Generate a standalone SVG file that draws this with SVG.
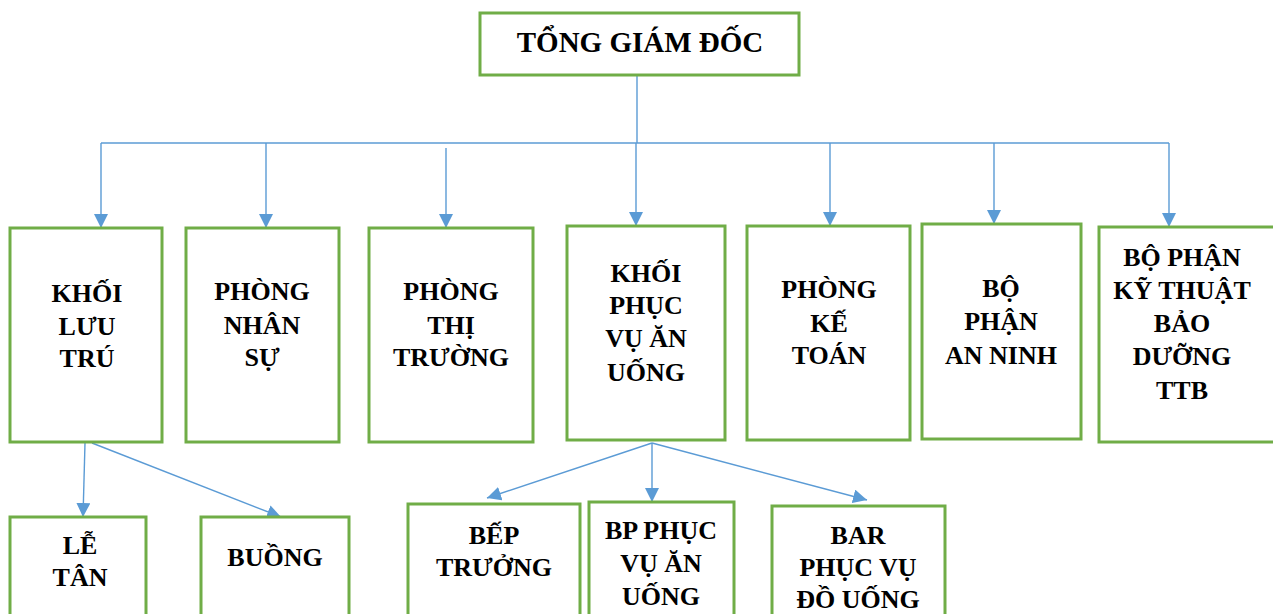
<svg xmlns="http://www.w3.org/2000/svg" width="1273" height="614" viewBox="0 0 1273 614">
  <defs>
    <marker id="arrow" markerUnits="userSpaceOnUse" markerWidth="14" markerHeight="15" refX="14" refY="7" orient="auto">
      <path d="M0,0 L14,7 L0,14 Z" fill="#5B9BD5"/>
    </marker>
    <style>
      .box { fill: #ffffff; stroke: #70AD47; stroke-width: 3; }
      .lbl { font-family: "Liberation Serif", "Times New Roman", serif; font-weight: bold; font-size: 26px; fill: #000000; text-anchor: middle; }
      .title { font-size: 29px; }
      .link { fill: none; stroke: #5B9BD5; stroke-width: 1.4; }
      .arr { marker-end: url(#arrow); }
    </style>
  </defs>
  <rect width="1273" height="614" fill="#ffffff"/>

  <!-- connectors -->
  <g id="connectors">
    <path class="link" d="M637,75 V143"/>
    <path class="link" d="M101,143 H1169"/>
    <path class="link arr" d="M101,143 V228"/>
    <path class="link arr" d="M266,143 V228"/>
    <path class="link arr" d="M446,148 V228"/>
    <path class="link arr" d="M636,143 V226"/>
    <path class="link arr" d="M830,143 V226"/>
    <path class="link arr" d="M994,143 V224"/>
    <path class="link arr" d="M1169,143 V227"/>
    <path class="link arr" d="M85,443 L83,517"/>
    <path class="link arr" d="M92,443 L281,517"/>
    <path class="link arr" d="M652,443 L487,498"/>
    <path class="link arr" d="M652,443 V502"/>
    <path class="link arr" d="M652,443 L867,500"/>
  </g>

  <g id="tong-giam-doc">
    <rect class="box" x="480" y="13" width="319" height="62"/>
    <text class="lbl title" x="640" y="52">TỔNG GIÁM ĐỐC</text>
  </g>

  <g id="khoi-luu-tru">
    <rect class="box" x="10" y="228" width="152" height="214"/>
    <text class="lbl" x="87" y="302">KHỐI</text>
    <text class="lbl" x="87" y="335">LƯU</text>
    <text class="lbl" x="87" y="367">TRÚ</text>
  </g>

  <g id="phong-nhan-su">
    <rect class="box" x="186" y="228" width="153" height="214"/>
    <text class="lbl" x="262" y="300">PHÒNG</text>
    <text class="lbl" x="262" y="334">NHÂN</text>
    <text class="lbl" x="262" y="366">SỰ</text>
  </g>

  <g id="phong-thi-truong">
    <rect class="box" x="369" y="228" width="164" height="214"/>
    <text class="lbl" x="451" y="300">PHÒNG</text>
    <text class="lbl" x="451" y="334">THỊ</text>
    <text class="lbl" x="451" y="366">TRƯỜNG</text>
  </g>

  <g id="khoi-phuc-vu-an-uong">
    <rect class="box" x="567" y="226" width="158" height="214"/>
    <text class="lbl" x="646" y="282">KHỐI</text>
    <text class="lbl" x="646" y="314">PHỤC</text>
    <text class="lbl" x="646" y="347">VỤ ĂN</text>
    <text class="lbl" x="646" y="381">UỐNG</text>
  </g>

  <g id="phong-ke-toan">
    <rect class="box" x="747" y="226" width="163" height="214"/>
    <text class="lbl" x="829" y="298">PHÒNG</text>
    <text class="lbl" x="829" y="332">KẾ</text>
    <text class="lbl" x="829" y="364">TOÁN</text>
  </g>

  <g id="bo-phan-an-ninh">
    <rect class="box" x="922" y="224" width="159" height="215"/>
    <text class="lbl" x="1001" y="297">BỘ</text>
    <text class="lbl" x="1001" y="330">PHẬN</text>
    <text class="lbl" x="1001" y="364">AN NINH</text>
  </g>

  <g id="bo-phan-ky-thuat">
    <rect class="box" x="1099" y="227" width="190" height="215"/>
    <text class="lbl" x="1182" y="266">BỘ PHẬN</text>
    <text class="lbl" x="1182" y="299">KỸ THUẬT</text>
    <text class="lbl" x="1182" y="332">BẢO</text>
    <text class="lbl" x="1182" y="365">DƯỠNG</text>
    <text class="lbl" x="1182" y="399">TTB</text>
  </g>

  <g id="le-tan">
    <rect class="box" x="10" y="517" width="136" height="110"/>
    <text class="lbl" x="80" y="554">LỄ</text>
    <text class="lbl" x="80" y="586">TÂN</text>
  </g>

  <g id="buong">
    <rect class="box" x="201" y="517" width="148" height="110"/>
    <text class="lbl" x="275" y="566">BUỒNG</text>
  </g>

  <g id="bep-truong">
    <rect class="box" x="408" y="504" width="172" height="120"/>
    <text class="lbl" x="494" y="544">BẾP</text>
    <text class="lbl" x="494" y="576">TRƯỞNG</text>
  </g>

  <g id="bp-phuc-vu-an-uong">
    <rect class="box" x="589" y="502" width="145" height="122"/>
    <text class="lbl" x="661" y="539">BP PHỤC</text>
    <text class="lbl" x="661" y="572">VỤ ĂN</text>
    <text class="lbl" x="661" y="605">UỐNG</text>
  </g>

  <g id="bar-phuc-vu-do-uong">
    <rect class="box" x="772" y="506" width="173" height="118"/>
    <text class="lbl" x="858" y="544">BAR</text>
    <text class="lbl" x="858" y="576">PHỤC VỤ</text>
    <text class="lbl" x="858" y="608">ĐỒ UỐNG</text>
  </g>
</svg>
